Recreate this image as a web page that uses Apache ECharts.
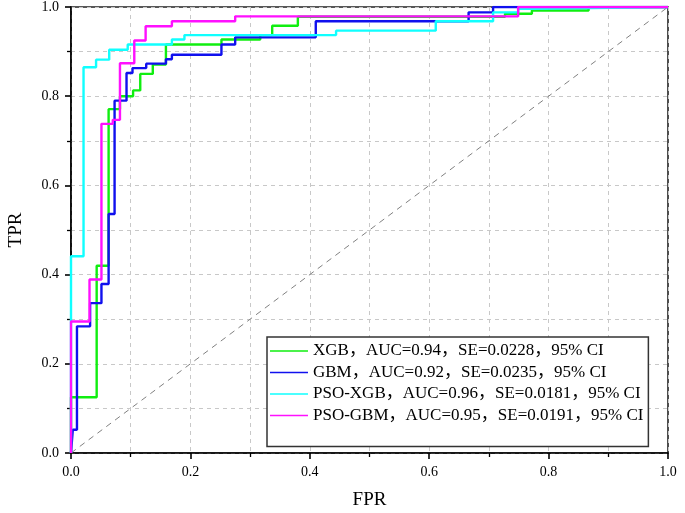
<!DOCTYPE html>
<html>
<head>
<meta charset="utf-8">
<script src="https://cdn.jsdelivr.net/npm/echarts@6/dist/echarts.min.js"></script>
<style>html,body{margin:0;padding:0;background:#fff;}#c{width:685px;height:513px;}</style>
</head>
<body>
<div id="c"></div>
<script>
// ROC step points (x = FPR where the jump happens, y = TPR after the jump)
const xgbFPR = [0, 0, 0.043, 0.063, 0.082, 0.104, 0.116, 0.137, 0.159, 0.252, 0.317, 0.337, 0.380, 0.727, 0.772, 0.867, 1];
const xgbTPR = [0, 0.125, 0.420, 0.771, 0.800, 0.813, 0.850, 0.871, 0.916, 0.927, 0.937, 0.958, 0.978, 0.985, 0.992, 1, 1];

const gbmFPR = [0, 0.003, 0.010, 0.032, 0.051, 0.063, 0.073, 0.093, 0.103, 0.126, 0.159, 0.169, 0.252, 0.275, 0.410, 0.666, 0.707, 1];
const gbmTPR = [0, 0.052, 0.284, 0.336, 0.379, 0.536, 0.790, 0.852, 0.863, 0.873, 0.883, 0.893, 0.916, 0.932, 0.968, 0.988, 1, 1];

const psoXgbFPR = [0, 0, 0.021, 0.042, 0.064, 0.095, 0.169, 0.190, 0.444, 0.611, 0.707, 0.749, 0.772, 1];
const psoXgbTPR = [0, 0.441, 0.865, 0.882, 0.904, 0.916, 0.927, 0.937, 0.947, 0.968, 0.988, 0.996, 1, 1];

const psoGbmFPR = [0, 0, 0.031, 0.051, 0.070, 0.082, 0.106, 0.125, 0.169, 0.275, 0.749, 1];
const psoGbmTPR = [0, 0.295, 0.389, 0.738, 0.747, 0.874, 0.925, 0.957, 0.968, 0.979, 1, 1];

const diagX = [0, 1];
const diagY = [0, 1];

const seriesNames = [
  'XGB，AUC=0.94，SE=0.0228，95% CI',
  'GBM，AUC=0.92，SE=0.0235，95% CI',
  'PSO-XGB，AUC=0.96，SE=0.0181，95% CI',
  'PSO-GBM，AUC=0.95，SE=0.0191，95% CI'
];
const seriesColors = ['#10ee10', '#1010ee', '#10ffff', '#ff10ff'];

function zip(a, b) { return a.map((v, i) => [v, b[i]]); }

const serif = "'Liberation Serif', 'Noto Sans CJK SC', serif";
const gridDash = { color: '#c8c8c8', type: [4, 4], width: 1 };

function axis(name, gap) {
  return {
    type: 'value', min: 0, max: 1, interval: 0.2,
    name: name, nameLocation: 'middle', nameGap: gap,
    nameTextStyle: { fontFamily: serif, fontSize: 19, color: '#000' },
    axisLine: { show: true, onZero: false, lineStyle: { color: '#000', width: 1.6 } },
    axisTick: { show: true, inside: false, length: 6, lineStyle: { color: '#000', width: 1.6 } },
    minorTick: { show: true, splitNumber: 2, length: 4, lineStyle: { color: '#000', width: 1.3 } },
    splitLine: { show: true, lineStyle: gridDash },
    minorSplitLine: { show: true, lineStyle: gridDash },
    axisLabel: { fontFamily: serif, fontSize: 14, color: '#000', margin: 12, formatter: v => v.toFixed(1) }
  };
}

const data = [zip(xgbFPR, xgbTPR), zip(gbmFPR, gbmTPR), zip(psoXgbFPR, psoXgbTPR), zip(psoGbmFPR, psoGbmTPR)];

const chart = echarts.init(document.getElementById('c'), null, { renderer: 'canvas' });
chart.setOption({
  animation: false,
  backgroundColor: '#fff',
  grid: {
    left: 71, right: 17, top: 7, bottom: 60, containLabel: false, outerBoundsMode: 'none',
    show: true, borderColor: '#222', borderWidth: 1.6, backgroundColor: 'transparent'
  },
  xAxis: axis('FPR', 38),
  yAxis: axis('TPR', 45),
  legend: {
    data: seriesNames,
    orient: 'vertical',
    left: 267, top: 337,
    padding: [5.5, 5, 22.5, 3],
    itemGap: 4.5, itemWidth: 38, itemHeight: 14,
    icon: 'path://M0,0L0,0.01Z M0,14L0,14.01Z M0,6.2L38,6.2L38,7.8L0,7.8Z',
    borderColor: '#333', borderWidth: 1.5,
    backgroundColor: '#fff',
    textStyle: { fontFamily: serif, fontSize: 17, color: '#000' }
  },
  series: [
    {
      type: 'line', name: 'diag', data: zip(diagX, diagY), symbol: 'none', silent: true,
      lineStyle: { color: '#808080', width: 1, type: [6, 5] }
    }
  ].concat(data.map((d, i) => ({
    type: 'line', name: seriesNames[i], data: d, step: 'end', symbol: 'none',
    lineStyle: { color: seriesColors[i], width: 2.4 }, itemStyle: { color: seriesColors[i] }
  })))
});
</script>
</body>
</html>
